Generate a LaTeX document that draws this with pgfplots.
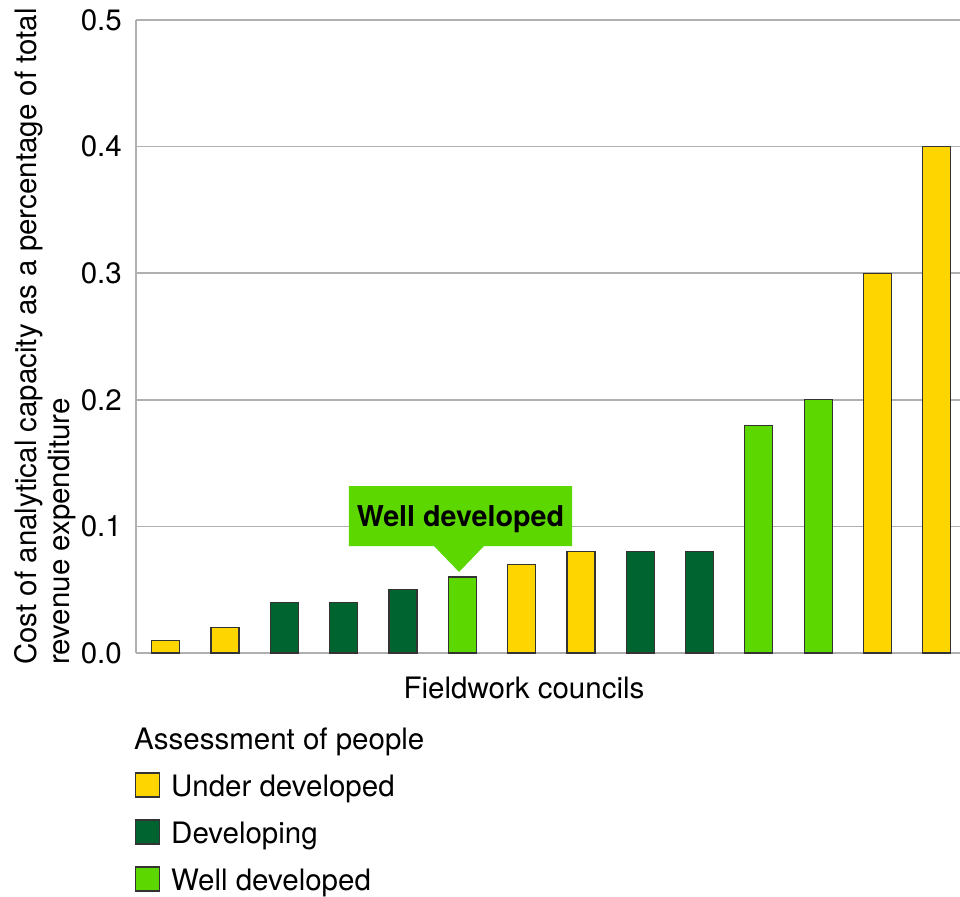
\documentclass[border=0pt]{standalone}
\usepackage{fontspec}
\setmainfont{TeX Gyre Heros}
\usepackage{pgfplots}
\pgfplotsset{compat=1.18}
\definecolor{cyellow}{HTML}{FFD500}
\definecolor{cdark}{HTML}{006430}
\definecolor{clight}{HTML}{5DD700}
\definecolor{cgrid}{HTML}{B0B0B0}
\newcommand\cf{\fontsize{29.5bp}{33bp}\selectfont}
\pgfplotsset{mybar/.style={draw=black!80, line width=1.2bp, bar shift=0pt,
  legend image code/.code={\draw[##1] (0bp,-9bp) rectangle (24bp,15bp);}}}
\begin{document}
\begin{tikzpicture}
\path[use as bounding box] (-136bp,-244bp) rectangle (824bp,653bp);
\begin{axis}[
  at={(0,0)}, anchor=south west,
  width=824bp, height=633bp, scale only axis,
  ybar, bar width=28bp, bar shift=0pt,
  xmin=-0.5025, xmax=13.393, ymin=0, ymax=0.5,
  axis x line*=bottom, axis y line*=left,
  axis line style={draw=cgrid, line width=1.5bp, -},
  xtick=\empty,
  ytick={0,0.1,0.2,0.3,0.4,0.5},
  major tick length=0pt,
  ymajorgrids, grid style={draw=cgrid, line width=1.5bp},
  /pgf/number format/assume math mode=true,
  font=\cf,
  ticklabel style={font=\cf},
  yticklabel style={anchor=east, inner sep=0pt, xshift=-14bp,
    /pgf/number format/fixed, /pgf/number format/fixed zerofill,
    /pgf/number format/precision=1},
  xlabel={Fieldwork councils},
  xlabel style={at={(axis description cs:0.4709,0)}, anchor=north, inner sep=0pt, yshift=-24bp, font=\cf},
  ylabel={Cost of analytical capacity as a percentage of total\\revenue expenditure},
  ylabel style={at={(axis description cs:-0.1104,0.5)}, anchor=center, align=left, font=\cf},
  legend cell align=left,
  legend style={at={(axis description cs:-0.0012,-0.1169)}, anchor=north west,
    draw=none, fill=none, inner sep=0pt, outer sep=0pt,
    row sep=17.4bp, column sep=11bp, font=\cf,
    nodes={inner sep=0pt, text height=22bp, text depth=6bp}},
]
\addlegendimage{empty legend}
\addlegendentry{\hspace{-37bp}Assessment of people}
\addplot[mybar, fill=cyellow] coordinates {(0,0.01) (1,0.02) (6,0.07) (7,0.08) (12,0.3) (13,0.4)};
\addlegendentry{Under developed}
\addplot[mybar, fill=cdark] coordinates {(2,0.04) (3,0.04) (4,0.05) (8,0.08) (9,0.08)};
\addlegendentry{Developing}
\addplot[mybar, fill=clight] coordinates {(5,0.06) (10,0.18) (11,0.2)};
\addlegendentry{Well developed}
\fill[clight] (axis cs:3.089,0.1319) -- (axis cs:6.850,0.1319) -- (axis cs:6.850,0.0845)
  -- (axis cs:5.366,0.0845) -- (axis cs:4.945,0.0640) -- (axis cs:4.523,0.0845)
  -- (axis cs:3.089,0.0845) -- cycle;
\node[anchor=base, inner sep=0pt, font=\fontsize{28.7bp}{33bp}\selectfont\bfseries] at (axis cs:4.97,0.1003) {Well developed};
\end{axis}
\end{tikzpicture}
\end{document}
